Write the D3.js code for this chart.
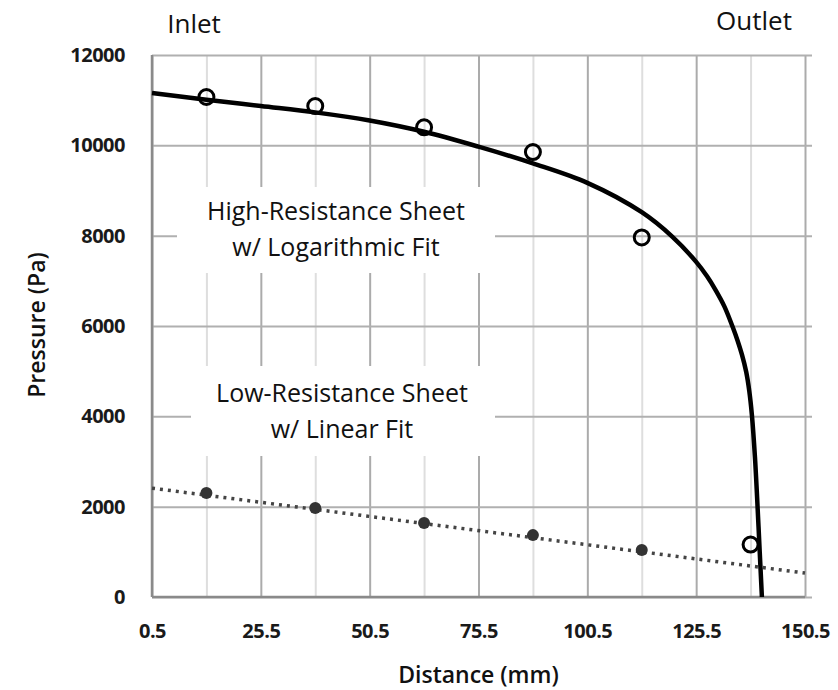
<!DOCTYPE html>
<html>
<head>
<meta charset="utf-8">
<script src="https://cdn.jsdelivr.net/npm/d3@7"></script>
<style>
  body { margin: 0; background: #fff; }
  svg text { font-family: "Open Sans", "Noto Sans", sans-serif; fill: #111; }
  .tick-label text { font-size: 20px; font-weight: 700; fill: #1a1a1a; letter-spacing: -0.5px; }
  .axis-title { font-size: 23px; font-weight: 600; }
  .note { font-size: 25px; font-weight: 400; }
</style>
</head>
<body>
<svg id="chart" width="838" height="690"></svg>
<script>
// tick values
var distTicks = [0.5, 25.5, 50.5, 75.5, 100.5, 125.5, 150.5];
var minorTicks = [13, 38, 63, 88, 113, 138];
var pressureTicks = [0, 2000, 4000, 6000, 8000, 10000, 12000];

// measured points
var highDist = [13, 38, 63, 88, 113, 138];
var highPressure = [11070, 10870, 10400, 9850, 7960, 1160];
var lowDist = [13, 38, 63, 88, 113];
var lowPressure = [2300, 1970, 1640, 1370, 1040];

// fit curves
var logFitDist = [0.5, 13, 25.5, 38, 50.5, 63, 75.5, 88, 100.5, 113, 120, 125.5, 128, 130, 132, 134, 135, 136, 137, 137.7, 138.3, 139, 139.5, 140.1, 140.6];
var logFitPressure = [11160, 11010, 10870, 10730, 10550, 10300, 9970, 9600, 9170, 8520, 7980, 7420, 7100, 6790, 6430, 5950, 5680, 5370, 4980, 4560, 4030, 3100, 2200, 1000, 0];
var linFitDist = [0.5, 150.5];
var linFitPressure = [2410, 530];

var svg = d3.select('svg');
var padding = {t: 55, r: 33, b: 93, l: 152};
var chartWidth = +svg.attr('width') - padding.l - padding.r;
var chartHeight = +svg.attr('height') - padding.t - padding.b;

var xScale = d3.scaleLinear().domain([0.5, 150.5]).range([0, chartWidth]);
var yScale = d3.scaleLinear().domain([0, 12000]).range([chartHeight, 0]);

var chart = svg.append('g')
  .attr('transform', 'translate(' + [padding.l, padding.t] + ')');

// minor vertical grid
chart.append('g')
  .attr('transform', 'translate(0,' + chartHeight + ')')
  .call(d3.axisBottom(xScale).tickValues(minorTicks).tickSize(-chartHeight).tickFormat(''))
  .call(g => g.select('.domain').remove())
  .selectAll('line').attr('stroke', '#dedede').attr('stroke-width', 2);

// major vertical grid
chart.append('g')
  .attr('transform', 'translate(0,' + chartHeight + ')')
  .call(d3.axisBottom(xScale).tickValues(distTicks).tickSize(-chartHeight).tickFormat(''))
  .call(g => g.select('.domain').remove())
  .selectAll('line').attr('stroke', '#ababab').attr('stroke-width', 2);

// horizontal grid
chart.append('g')
  .call(d3.axisRight(yScale).tickValues(pressureTicks).tickSize(chartWidth + 7).tickFormat(''))
  .call(g => g.select('.domain').remove())
  .selectAll('line').attr('stroke', '#b0b0b0').attr('stroke-width', 2);

// axis lines
chart.append('line')
  .attr('x1', 0).attr('x2', 0).attr('y1', 0).attr('y2', chartHeight)
  .attr('stroke', '#8a8a8a').attr('stroke-width', 2.5);
chart.append('line')
  .attr('x1', 0).attr('x2', chartWidth).attr('y1', chartHeight).attr('y2', chartHeight)
  .attr('stroke', '#8a8a8a').attr('stroke-width', 2.5);

// tick labels
chart.append('g')
  .attr('class', 'tick-label')
  .call(d3.axisLeft(yScale).tickValues(pressureTicks).tickSize(0).tickPadding(27).tickFormat(d3.format('d')))
  .call(g => g.select('.domain').remove());

chart.append('g')
  .attr('class', 'tick-label')
  .attr('transform', 'translate(0,' + chartHeight + ')')
  .call(d3.axisBottom(xScale).tickValues(distTicks).tickSize(0).tickPadding(27).tickFormat(d3.format('.1f')))
  .call(g => g.select('.domain').remove());

// white boxes behind the notes
var notes = [
  {lines: ['High-Resistance Sheet', 'w/ Logarithmic Fit'], box: [177, 187, 318, 86], cx: 336, base: 220},
  {lines: ['Low-Resistance Sheet', 'w/ Linear Fit'], box: [191, 366, 304, 90], cx: 342, base: 402}
];
notes.forEach(function(n) {
  svg.append('rect')
    .attr('x', n.box[0]).attr('y', n.box[1]).attr('width', n.box[2]).attr('height', n.box[3])
    .attr('fill', '#fff');
  n.lines.forEach(function(t, i) {
    svg.append('text')
      .attr('class', 'note')
      .attr('x', n.cx)
      .attr('y', n.base + i * 36)
      .attr('text-anchor', 'middle')
      .text(t);
  });
});

// linear fit (dotted)
var linLine = d3.line()
  .x(d => xScale(d[0]))
  .y(d => yScale(d[1]));
chart.append('path')
  .datum(d3.zip(linFitDist, linFitPressure))
  .attr('fill', 'none')
  .attr('stroke', '#444')
  .attr('stroke-width', 3.5)
  .attr('stroke-dasharray', '3,5')
  .attr('d', linLine);

// low-resistance points
chart.selectAll('.low')
  .data(d3.zip(lowDist, lowPressure))
  .enter()
  .append('circle')
  .attr('class', 'low')
  .attr('cx', d => xScale(d[0]))
  .attr('cy', d => yScale(d[1]))
  .attr('r', 6)
  .attr('fill', '#333');

// logarithmic fit
var logLine = d3.line()
  .x(d => xScale(d[0]))
  .y(d => yScale(d[1]))
  .curve(d3.curveCatmullRom.alpha(0.5));
chart.append('path')
  .datum(d3.zip(logFitDist, logFitPressure))
  .attr('fill', 'none')
  .attr('stroke', '#000')
  .attr('stroke-width', 4.5)
  .attr('stroke-linejoin', 'round')
  .attr('d', logLine);

// high-resistance points
chart.selectAll('.high')
  .data(d3.zip(highDist, highPressure))
  .enter()
  .append('circle')
  .attr('class', 'high')
  .attr('cx', d => xScale(d[0]))
  .attr('cy', d => yScale(d[1]))
  .attr('r', 7.5)
  .attr('fill', 'none')
  .attr('stroke', '#000')
  .attr('stroke-width', 3);

// titles
svg.append('text')
  .attr('class', 'axis-title')
  .attr('x', padding.l + chartWidth / 2)
  .attr('y', 683)
  .attr('text-anchor', 'middle')
  .text('Distance (mm)');

svg.append('text')
  .attr('class', 'axis-title')
  .attr('transform', 'translate(45,325)rotate(-90)')
  .attr('text-anchor', 'middle')
  .text('Pressure (Pa)');

svg.append('text')
  .attr('class', 'note')
  .style('font-size', '26px')
  .attr('x', 194)
  .attr('y', 33)
  .attr('text-anchor', 'middle')
  .text('Inlet');

svg.append('text')
  .attr('class', 'note')
  .style('font-size', '26px')
  .attr('x', 754)
  .attr('y', 30)
  .attr('text-anchor', 'middle')
  .text('Outlet');
</script>
</body>
</html>
